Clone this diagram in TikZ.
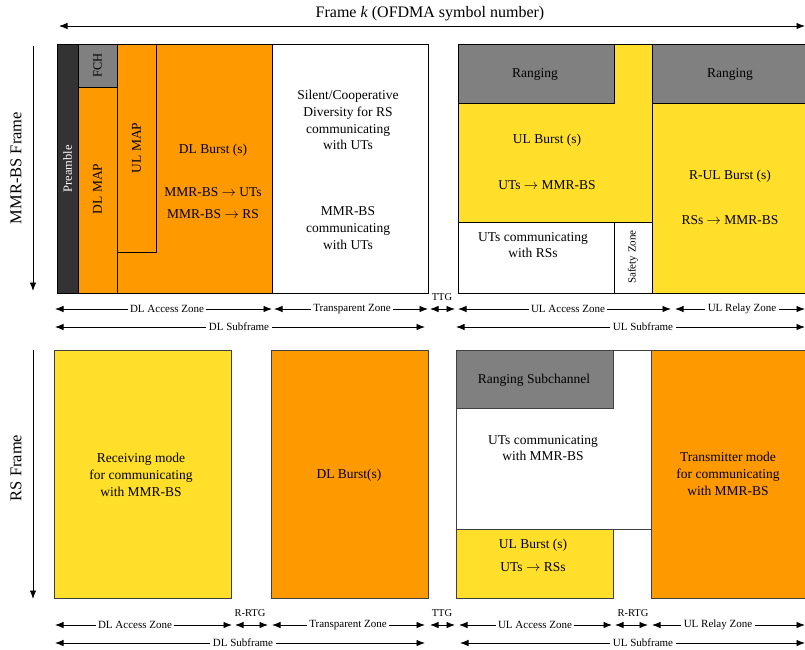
\documentclass[tikz,border=0pt]{standalone}
\usepackage{fontspec}
\setmainfont{Liberation Serif}
\usetikzlibrary{arrows.meta}
\definecolor{burst}{HTML}{FF9900}
\definecolor{ulyel}{HTML}{FFDF2A}
\definecolor{rang}{HTML}{808080}
\definecolor{pream}{HTML}{333333}
\begin{document}
\begin{tikzpicture}[x=1pt,y=-1pt,
  blk/.style={draw=black,line width=0.9pt},
  soft/.style={draw=black!75,line width=0.8pt},
  txt/.style={font=\fontsize{13.5}{16.8}\selectfont,align=center,inner sep=0pt},
  side/.style={font=\fontsize{16.5}{19}\selectfont,rotate=90,inner sep=0pt},
  lab/.style={font=\fontsize{11}{13}\selectfont,fill=white,inner sep=2.5pt},
  gap/.style={font=\fontsize{10.5}{12}\selectfont,inner sep=0pt},
  tip/.tip={Latex[length=8.5pt,width=6.5pt]},
  dim/.style={tip-tip,line width=0.9pt},
  down/.style={-tip,line width=0.9pt}]
\useasboundingbox (0,0) rectangle (805,649);
\clip (0,0) rectangle (805,649);

% ---------- frame axis ----------
\draw[dim] (59,26) coordinate (fa) -- (805,26) coordinate (fb);
\node[font=\fontsize{16}{19}\selectfont,inner sep=0pt] (ftitle) at (430,14) {Frame \textit{k} (OFDMA symbol number)};

\node[side] (mmrlab) at (16,168) {MMR-BS Frame};
\draw[down] (33,46) coordinate (ma) -- (33,291) coordinate (mb);
\node[side] (rslab) at (16,468) {RS Frame};
\draw[down] (33,350) coordinate (ra) -- (33,599) coordinate (rb);

% ---------- MMR-BS frame: downlink ----------
\filldraw[blk,fill=pream] (57,44) rectangle (78,293);
\filldraw[blk,fill=rang] (78,44) rectangle (117,87);
\filldraw[blk,fill=burst] (78,87) rectangle (117,293);
\filldraw[blk,fill=burst] (117,44) rectangle (272,293);
\filldraw[blk,fill=burst] (117,44) rectangle (156,252);
\filldraw[blk,fill=white] (272,44) rectangle (428,293);

\node[txt,rotate=90,text=white,font=\fontsize{12.5}{14}\selectfont] (pre) at (67.5,169) {Preamble};
\node[txt,rotate=90,font=\fontsize{12.5}{14}\selectfont] (fch) at (97.5,65.5) {FCH};
\node[txt,rotate=90] (dlmap) at (97.5,189) {DL MAP};
\node[txt,rotate=90] (ulmap) at (136.5,148) {UL MAP};
\node[txt] (dlb) at (213,150) {DL Burst (s)};
\node[txt] (dlb2) at (213,192) {MMR-BS $\rightarrow$ UTs};
\node[txt] (dlb3) at (213,214) {MMR-BS $\rightarrow$ RS};
\node[txt] (silent) at (348,120) {Silent/Cooperative\\Diversity for RS\\communicating\\with UTs};
\node[txt] (mmrcom) at (348,228) {MMR-BS\\communicating\\with UTs};

% ---------- MMR-BS frame: uplink ----------
\filldraw[blk,fill=ulyel] (458,44) rectangle (652,222);
\filldraw[blk,fill=rang] (458,44) rectangle (614,103);
\filldraw[blk,fill=white] (458,222) rectangle (614,293);
\filldraw[blk,fill=white] (614,222) rectangle (652,293);
\filldraw[blk,fill=ulyel] (652,44) rectangle (815,293);
\filldraw[blk,fill=rang] (652,44) rectangle (815,103);

\node[txt] (rng1) at (535,74) {Ranging};
\node[txt] (ulb) at (547,140) {UL Burst (s)};
\node[txt] (ulb2) at (547,185) {UTs $\rightarrow$ MMR-BS};
\node[txt] (utrs) at (533,245) {UTs communicating\\with RSs};
\node[txt,rotate=90,font=\fontsize{11}{12}\selectfont] (safe) at (633,257) {Safety Zone};
\node[txt] (rng2) at (730,74) {Ranging};
\node[txt] (rul) at (730,176) {R-UL Burst (s)};
\node[txt] (rul2) at (730,220) {RSs $\rightarrow$ MMR-BS};

% ---------- MMR-BS frame: zones ----------
\draw[dim] (55,309) coordinate (z1a) -- (272,309) coordinate (z1b);
\node[lab] (z1) at (167,309) {DL Access Zone};
\draw[dim] (274,309) coordinate (z2a) -- (428,309) coordinate (z2b);
\node[lab] (z2) at (352,309) {Transparent Zone};
\draw[dim] (430,309) coordinate (t1a) -- (455,309) coordinate (t1b);
\node[gap] (t1) at (442,297) {TTG};
\draw[dim] (458,309) coordinate (z3a) -- (671,309) coordinate (z3b);
\node[lab] (z3) at (568,309) {UL Access Zone};
\draw[dim] (675,309) coordinate (z4a) -- (805,309) coordinate (z4b);
\node[lab] (z4) at (742,309) {UL Relay Zone};
\draw[dim] (55,327) coordinate (s1a) -- (425,327) coordinate (s1b);
\node[lab] (s1) at (239,327) {DL Subframe};
\draw[dim] (456,327) coordinate (s2a) -- (805,327) coordinate (s2b);
\node[lab] (s2) at (643,327) {UL Subframe};

% ---------- RS frame ----------
\filldraw[soft,fill=ulyel] (54,350) rectangle (231,598);
\filldraw[soft,fill=burst] (271,350) rectangle (428,598);
\filldraw[soft,fill=white] (456,350) rectangle (651,529);
\filldraw[soft,fill=rang] (456,350) rectangle (613,408);
\filldraw[soft,fill=ulyel] (456,529) rectangle (613,598);
\filldraw[soft,fill=burst] (651,350) rectangle (815,598);

\node[txt] (recv) at (141,475) {Receiving mode\\for communicating\\with MMR-BS};
\node[txt] (rdl) at (349,475) {DL Burst(s)};
\node[txt] (rsub) at (534,380) {Ranging Subchannel};
\node[txt] (utm) at (543,448) {UTs communicating\\with MMR-BS};
\node[txt] (rul3) at (533,545) {UL Burst (s)};
\node[txt] (rul4) at (533,567) {UTs $\rightarrow$ RSs};
\node[txt] (tx) at (728,474) {Transmitter mode\\for communicating\\with MMR-BS};

% ---------- RS frame: zones ----------
\draw[dim] (55,625) coordinate (r1a) -- (232,625) coordinate (r1b);
\node[lab] (r1) at (135,625) {DL Access Zone};
\draw[dim] (235,625) coordinate (g1a) -- (268,625) coordinate (g1b);
\node[gap] (g1) at (250,613) {R-RTG};
\draw[dim] (272,625) coordinate (r2a) -- (425,625) coordinate (r2b);
\node[lab] (r2) at (348,625) {Transparent Zone};
\draw[dim] (430,625) coordinate (t2a) -- (455,625) coordinate (t2b);
\node[gap] (t2) at (442,613) {TTG};
\draw[dim] (459,625) coordinate (r3a) -- (612,625) coordinate (r3b);
\node[lab] (r3) at (535,625) {UL Access Zone};
\draw[dim] (615,625) coordinate (g2a) -- (648,625) coordinate (g2b);
\node[gap] (g2) at (633,613) {R-RTG};
\draw[dim] (652,625) coordinate (r4a) -- (805,625) coordinate (r4b);
\node[lab] (r4) at (718,625) {UL Relay Zone};
\draw[dim] (55,643) coordinate (q1a) -- (425,643) coordinate (q1b);
\node[lab] (q1) at (243,643) {DL Subframe};
\draw[dim] (460,643) coordinate (q2a) -- (805,643) coordinate (q2b);
\node[lab] (q2) at (643,643) {UL Subframe};
\end{tikzpicture}
\end{document}
